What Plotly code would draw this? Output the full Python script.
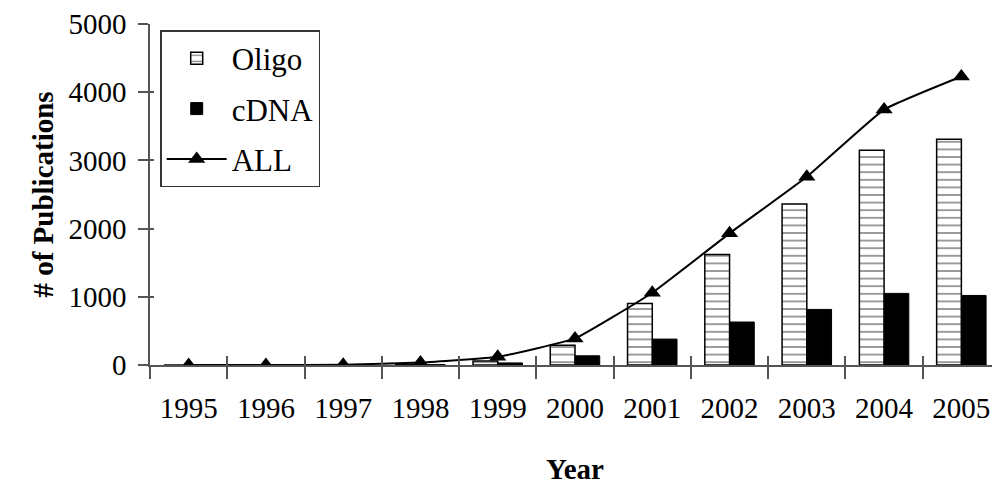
import plotly.graph_objects as go

years = ["1995", "1996", "1997", "1998", "1999", "2000", "2001", "2002", "2003", "2004", "2005"]
oligo = [0, 0, 0, 10, 60, 290, 900, 1620, 2360, 3150, 3310]
cdna = [0, 0, 0, 5, 30, 135, 380, 630, 815, 1050, 1020]
all_pubs = [0, 0, 5, 35, 120, 390, 1060, 1930, 2760, 3745, 4230]
y_ticks = [0, 1000, 2000, 3000, 4000, 5000]

FONT = "Liberation Serif"
FS = 29
AX = "#555"

fig = go.Figure()
fig.add_trace(go.Bar(
    x=years, y=oligo, name="Oligo", legendgroup="a",
    marker=dict(color="white", line=dict(color="black", width=1.5),
                pattern=dict(shape="-", fgcolor="black", bgcolor="white", size=7.6, solidity=0.2)),
))
fig.add_trace(go.Bar(
    x=years, y=cdna, name="cDNA", legendgroup="b",
    marker=dict(color="black", line=dict(color="black", width=1)),
))
fig.add_trace(go.Scatter(
    x=years, y=all_pubs, name="ALL", mode="lines+markers", legendgroup="c",
    line=dict(color="black", width=2, shape="spline", smoothing=0.35),
    marker=dict(symbol="triangle-up", size=15, color="black"),
))
# invisible helper trace carrying the overlay axes (inner half of crossing ticks)
fig.add_trace(go.Scatter(
    x=years, y=all_pubs, xaxis="x2", yaxis="y2", mode="lines",
    line=dict(width=0, color="rgba(0,0,0,0)"), showlegend=False, hoverinfo="skip",
))

fig.update_layout(
    width=992, height=477,
    margin=dict(l=142, r=0, t=14, b=120),
    paper_bgcolor="white", plot_bgcolor="white",
    font=dict(family=FONT, size=FS, color="black"),
    barmode="group", bargap=0.36, bargroupgap=0,
    showlegend=True,
    legend=dict(x=0.012, y=0.982, xanchor="left", yanchor="top",
                bordercolor="#333", borderwidth=1.5, bgcolor="white",
                font=dict(family=FONT, size=31), tracegroupgap=7,
                itemwidth=60),
    xaxis=dict(
        range=[-0.5, 10.5], autorange=False,
        showline=True, linecolor=AX, linewidth=1.5,
        ticks="outside", tickson="boundaries", ticklen=12, tickcolor=AX, tickwidth=1.5,
        ticklabelstandoff=16,
        title=dict(text="<b>Year</b>", font=dict(family=FONT, size=FS), standoff=36),
        showgrid=False,
    ),
    xaxis2=dict(
        overlaying="x", anchor="y", type="category",
        range=[-0.5, 10.5], autorange=False,
        showline=False, showticklabels=False, showgrid=False,
        ticks="inside", tickson="boundaries", ticklen=9, tickcolor=AX, tickwidth=1.5,
    ),
    yaxis=dict(
        range=[0, 5000], autorange=False, tickvals=y_ticks,
        showline=True, linecolor=AX, linewidth=1.5,
        ticks="outside", ticklen=10, tickcolor=AX, tickwidth=1.5,
        ticklabelstandoff=6, ticklabeloverflow="allow",
        title=dict(text="<b># of Publications</b>", font=dict(family=FONT, size=FS), standoff=6),
        showgrid=False, zeroline=False,
    ),
    yaxis2=dict(
        overlaying="y", anchor="x", side="left",
        range=[0, 5000], autorange=False, tickvals=y_ticks,
        showline=False, showticklabels=False, showgrid=False, zeroline=False,
        ticks="inside", ticklen=4, tickcolor=AX, tickwidth=1.5,
    ),
)

fig.write_html("out.html")
